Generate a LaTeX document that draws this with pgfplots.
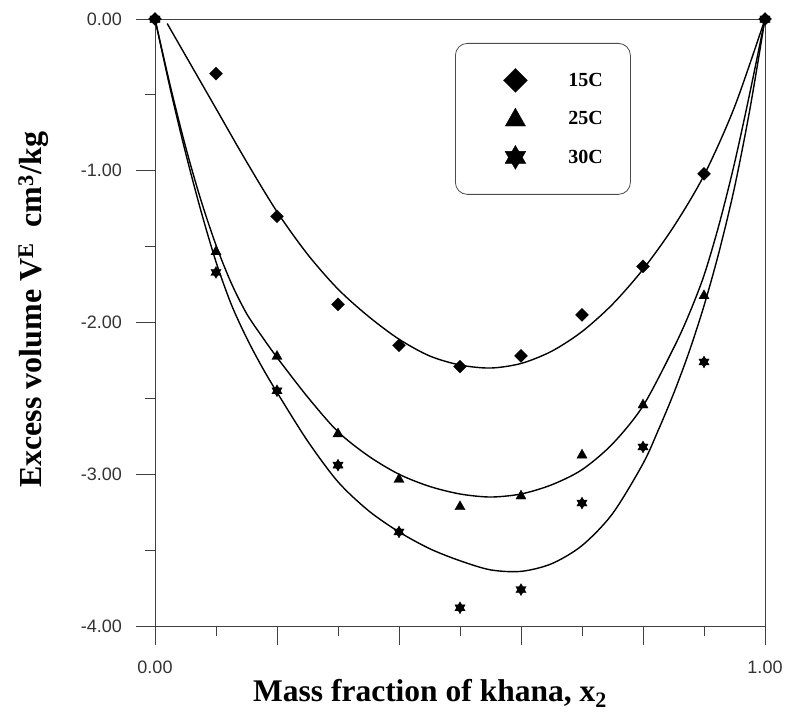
\documentclass[border=0pt]{standalone}
\usepackage{fontspec}
\setmainfont{Liberation Serif}
\newfontfamily\ticksans{Liberation Sans}
\usepackage{pgfplots}
\pgfplotsset{compat=1.18}

% filled marks: diamond, triangle and six-pointed star
\pgfdeclareplotmark{vdiamond}{%
  \pgfpathmoveto{\pgfqpoint{0pt}{\pgfplotmarksize}}%
  \pgfpathlineto{\pgfqpoint{\pgfplotmarksize}{0pt}}%
  \pgfpathlineto{\pgfqpoint{0pt}{-\pgfplotmarksize}}%
  \pgfpathlineto{\pgfqpoint{-\pgfplotmarksize}{0pt}}%
  \pgfpathclose
  \pgfusepathqfillstroke}
\pgfdeclareplotmark{vtri}{%
  \pgfpathmoveto{\pgfqpoint{0pt}{0.9\pgfplotmarksize}}%
  \pgfpathlineto{\pgfqpoint{0.85\pgfplotmarksize}{-0.6\pgfplotmarksize}}%
  \pgfpathlineto{\pgfqpoint{-0.85\pgfplotmarksize}{-0.6\pgfplotmarksize}}%
  \pgfpathclose
  \pgfusepathqfillstroke}
\pgfdeclareplotmark{hexstar}{%
  \pgfpathmoveto{\pgfqpoint{0pt}{\pgfplotmarksize}}%
  \pgfpathlineto{\pgfqpoint{0.866\pgfplotmarksize}{-0.5\pgfplotmarksize}}%
  \pgfpathlineto{\pgfqpoint{-0.866\pgfplotmarksize}{-0.5\pgfplotmarksize}}%
  \pgfpathclose
  \pgfpathmoveto{\pgfqpoint{0pt}{-\pgfplotmarksize}}%
  \pgfpathlineto{\pgfqpoint{-0.866\pgfplotmarksize}{0.5\pgfplotmarksize}}%
  \pgfpathlineto{\pgfqpoint{0.866\pgfplotmarksize}{0.5\pgfplotmarksize}}%
  \pgfpathclose
  \pgfusepathqfillstroke}

\begin{document}
\begin{tikzpicture}
\useasboundingbox (-155bp,-87bp) rectangle (630bp,626bp);
\begin{axis}[
  at={(0,0)}, anchor=south west,
  scale only axis, width=610bp, height=607bp,
  xmin=0, xmax=1, ymin=-4, ymax=0,
  clip=false,
  axis line style={black!75, line width=0.9bp},
  tick align=outside,
  xtick pos=bottom, ytick pos=left,
  xtick={0,0.2,0.4,0.6,0.8,1},
  xticklabels={0.00,,,,,1.00},
  minor xtick={0.1,0.3,0.5,0.7,0.9},
  ytick={-4,-3,-2,-1,0},
  yticklabels={-4.00,-3.00,-2.00,-1.00,0.00},
  minor ytick={-3.5,-2.5,-1.5,-0.5},
  major tick length=19bp, minor tick length=10bp,
  every tick/.style={black!75, line width=0.9bp},
  tick label style={font=\ticksans\fontsize{18bp}{21bp}\selectfont, text=black!80, inner sep=0pt},
  xticklabel shift=16bp, yticklabel shift=14bp,
  legend cell align=left,
  legend image code/.code={%
    \begin{scope}[sharp corners]
      \path[draw=none] (0bp,-14bp) rectangle (80bp,14bp);
      \draw[#1, mark size=12bp] plot coordinates {(60bp,0bp)};
    \end{scope}},
  legend style={at={(rel axis cs:0.4918,0.9605)}, anchor=north west,
    draw=black!70, line width=0.8bp, rounded corners=12bp,
    inner xsep=0pt, inner ysep=23bp, row sep=10.5bp, column sep=33bp,
    font=\bfseries\fontsize{20bp}{22bp}\selectfont,
    nodes={inner sep=0pt, text width=62bp}},
  mark options={solid, fill=black, draw=black, line width=0.3bp},
]
% fitted curves
\addplot[black, line width=1.4bp, smooth, forget plot] coordinates {
 (0.02,-0.03) (0.05,-0.24) (0.1,-0.59) (0.15,-0.94) (0.2,-1.27) (0.25,-1.55)
 (0.3,-1.78) (0.35,-1.96) (0.4,-2.11) (0.45,-2.22) (0.5,-2.28) (0.55,-2.30)
 (0.6,-2.27) (0.65,-2.19) (0.7,-2.06) (0.75,-1.88) (0.8,-1.65) (0.85,-1.37)
 (0.9,-1.03) (0.95,-0.58) (1,0)};
\addplot[black, line width=1.4bp, smooth, forget plot] coordinates {
 (0,0) (0.025,-0.44) (0.05,-0.84) (0.075,-1.19) (0.1,-1.49) (0.125,-1.74)
 (0.15,-1.94) (0.175,-2.09) (0.2,-2.23) (0.25,-2.49) (0.3,-2.72) (0.35,-2.88)
 (0.4,-3.00) (0.45,-3.08) (0.5,-3.13) (0.55,-3.15) (0.6,-3.13) (0.65,-3.07)
 (0.7,-2.97) (0.75,-2.80) (0.8,-2.55) (0.85,-2.17) (0.875,-1.95) (0.9,-1.69)
 (0.925,-1.35) (0.95,-0.95) (0.975,-0.49) (1,0)};
\addplot[black, line width=1.4bp, smooth, forget plot] coordinates {
 (0,0) (0.025,-0.46) (0.05,-0.88) (0.075,-1.26) (0.1,-1.60) (0.125,-1.88)
 (0.15,-2.10) (0.175,-2.29) (0.2,-2.46) (0.25,-2.78) (0.3,-3.05) (0.35,-3.24)
 (0.4,-3.38) (0.45,-3.49) (0.5,-3.57) (0.55,-3.63) (0.6,-3.64) (0.65,-3.59)
 (0.7,-3.47) (0.75,-3.26) (0.8,-2.93) (0.825,-2.71) (0.85,-2.47) (0.875,-2.20)
 (0.9,-1.89) (0.925,-1.53) (0.95,-1.11) (0.975,-0.60) (1,0)};
% measured points
\addplot[only marks, mark=vdiamond, mark size=6.5bp] coordinates {
 (0,0) (0.1,-0.36) (0.2,-1.30) (0.3,-1.88) (0.4,-2.15) (0.5,-2.29)
 (0.6,-2.22) (0.7,-1.95) (0.8,-1.63) (0.9,-1.02) (1,0)};
\addlegendentry{15C}
\addplot[only marks, mark=vtri, mark size=6bp] coordinates {
 (0,0) (0.1,-1.53) (0.2,-2.22) (0.3,-2.73) (0.4,-3.03) (0.5,-3.21)
 (0.6,-3.14) (0.7,-2.87) (0.8,-2.54) (0.9,-1.82) (1,0)};
\addlegendentry{25C}
\addplot[only marks, mark=hexstar, mark size=6bp] coordinates {
 (0,0) (0.1,-1.67) (0.2,-2.45) (0.3,-2.94) (0.4,-3.38) (0.5,-3.88)
 (0.6,-3.76) (0.7,-3.19) (0.8,-2.82) (0.9,-2.26) (1,0)};
\addlegendentry{30C}
\end{axis}
\node[anchor=base, font=\bfseries\fontsize{31.5bp}{36bp}\selectfont]
  at (275bp,-75bp) {Mass fraction of khana, x\textsubscript{2}};
\node[rotate=90, anchor=base, font=\bfseries\fontsize{32bp}{38bp}\selectfont]
  at (-113bp,316bp) {Excess volume V\textsuperscript{E}\ \ cm\textsuperscript{3}/kg};
\end{tikzpicture}
\end{document}
